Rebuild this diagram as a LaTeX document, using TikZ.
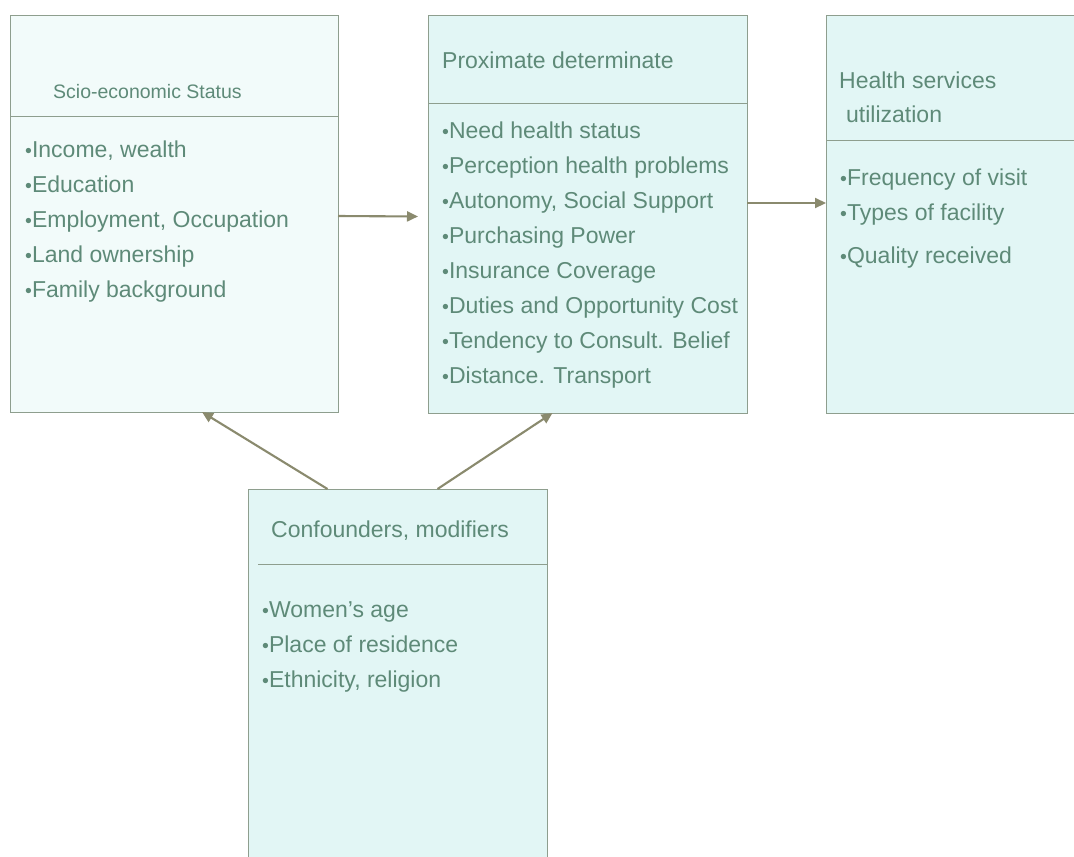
\documentclass[tikz,border=0pt]{standalone}
\usepackage{fontspec}
\setmainfont{Liberation Sans}
\usepackage{xcolor}
\usetikzlibrary{arrows.meta,positioning,calc}

\definecolor{boxfill}{HTML}{E2F6F5}
\definecolor{boxline}{HTML}{8E9E8E}
\definecolor{txtcol}{HTML}{5E8A78}
\definecolor{arrcol}{HTML}{8A8A6E}

\newcommand{\blt}{{\scalebox{0.85}{•}}}

\begin{document}
\begin{tikzpicture}[x=1pt, y=-1pt,
  panel/.style={draw=boxline, line width=0.9pt, fill=boxfill, inner sep=0pt,
                outer sep=0pt},
  rule/.style={draw=boxline, line width=0.9pt},
  head/.style={font=\fontsize{23}{34}\selectfont, text=txtcol, inner sep=0pt,
               anchor=base west, align=left},
  items/.style={font=\fontsize{23}{35}\selectfont, text=txtcol, inner sep=0pt,
                anchor=base west, align=left},
  ar/.style={-{Triangle[length=11pt, width=10pt]}, draw=arrcol, line width=2.1pt}
]
  \clip (0,0) rectangle (1074,857);
  \fill[white] (0,0) rectangle (1074,857);

  % the four boxes
  \node[panel, fill=boxfill!45, minimum width=328pt, minimum height=397pt] (soc) at (174,213.5) {};
  \node[panel, minimum width=319pt, minimum height=398pt] (prox) at (587.5,214) {};
  \node[panel, minimum width=264pt, minimum height=398pt] (util) at (958,214) {};
  \node[panel, minimum width=299pt, minimum height=400pt] (conf) at (397.5,689) {};

  % header rules
  \draw[rule] (soc.west |- 0,116) -- (soc.east |- 0,116);
  \draw[rule] (prox.west |- 0,103) -- (prox.east |- 0,103);
  \draw[rule] (util.west |- 0,140) -- (util.east |- 0,140);
  \draw[rule] (258,564) -- (conf.east |- 0,564);

  % titles (base = last line)
  \node[head, font=\fontsize{19.5}{24}\selectfont] (socT) at (53,98) {Scio-economic Status};
  \node[head] (proxT) at (442,68) {Proximate determinate};
  \node[head] (utilT) at (839,122) {Health services\\\hspace{7pt}utilization};
  \node[head] (confT) at (271,537) {Confounders, modifiers};

  % lists (base = last line)
  \node[items] (socL) at (25,297) {\blt Income, wealth\\ \blt Education\\
    \blt Employment, Occupation\\ \blt Land ownership\\ \blt Family background};
  \node[items] (proxL) at (442,383) {\blt Need health status\\
    \blt Perception health problems\\ \blt Autonomy, Social Support\\
    \blt Purchasing Power\\ \blt Insurance Coverage\\
    \blt Duties and Opportunity Cost\\ \blt Tendency to Consult. Belief\\
    \blt Distance. Transport};
  \node[items] (utilL) at (840,263) {\blt Frequency of visit\\
    \blt Types of facility\\[8pt] \blt Quality received};
  \node[items] (confL) at (262,687) {\blt Women’s age\\ \blt Place of residence\\
    \blt Ethnicity, religion};

  % links
  \draw[ar] ([yshift=-2.5pt]soc.east) -- ([xshift=-10pt,yshift=-2.5pt]prox.west);
  \draw[ar] ([yshift=11pt]prox.east) -- ([yshift=11pt]util.west);
  \draw[ar] ([xshift=-70pt]conf.north) -- ([xshift=28pt]soc.south);
  \draw[ar] ([xshift=40pt]conf.north) -- ([xshift=-35pt]prox.south);
\end{tikzpicture}
\end{document}
